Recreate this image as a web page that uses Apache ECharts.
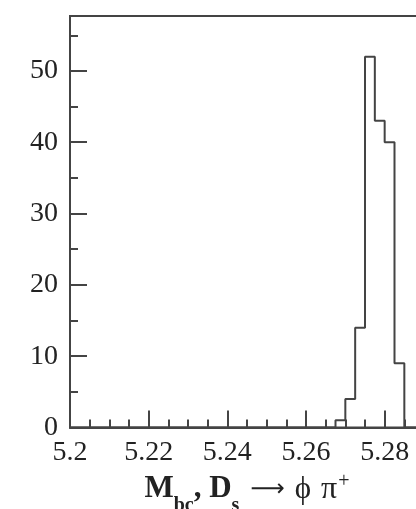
<!DOCTYPE html>
<html>
<head>
<meta charset="utf-8">
<script src="https://cdn.jsdelivr.net/npm/echarts@6/dist/echarts.min.js"></script>
<style>
  html, body { margin: 0; padding: 0; background: #ffffff; }
  #chart { width: 416px; height: 509px; }
</style>
</head>
<body>
<div id="chart"></div>
<script>
// Beam-constrained mass histogram, 0.0025 GeV bins starting at 5.2
const binLow = 5.2;
const binWidth = 0.0025;
const counts = [
  0, 0, 0, 0, 0, 0, 0, 0, 0, 0,
  0, 0, 0, 0, 0, 0, 0, 0, 0, 0,
  0, 0, 0, 0, 0, 0, 0, 1, 4, 14,
  52, 43, 40, 9, 0, 0
];

const xMin = 5.2;
const xMax = 5.29;
const yMin = 0;
const yMax = 57.7;

const xMajorTicks = [5.2, 5.22, 5.24, 5.26, 5.28];
const xMinorTicks = [5.205, 5.21, 5.215, 5.225, 5.23, 5.235, 5.245, 5.25, 5.255, 5.265, 5.27, 5.275, 5.285];
const yMajorTicks = [0, 10, 20, 30, 40, 50];
const yMinorTicks = [5, 15, 25, 35, 45, 55];

const ink = '#444444';
const serif = '"Liberation Serif", "DejaVu Serif", serif';

// step outline: each point is a bin's lower edge, plus the closing edge
const steps = counts.map((c, i) => [binLow + i * binWidth, c]);
steps.push([binLow + counts.length * binWidth, 0]);

const axisBase = {
  type: 'value',
  splitLine: { show: false },
  axisLine: { show: true, onZero: false, lineStyle: { color: ink, width: 2 } }
};

const chart = echarts.init(document.getElementById('chart'));
chart.setOption({
  animation: false,
  grid: {
    left: 70, top: 16, width: 354, height: 411.5,
    outerBoundsMode: 'none',
    containLabel: false,
    show: true, borderColor: ink, borderWidth: 2,
    backgroundColor: 'transparent'
  },
  xAxis: [
    Object.assign({}, axisBase, {
      min: xMin, max: xMax, position: 'bottom',
      axisTick: { show: true, inside: true, length: 17, customValues: xMajorTicks,
                  lineStyle: { color: ink, width: 2 } },
      axisLabel: {
        customValues: xMajorTicks, margin: 11,
        fontFamily: serif, fontSize: 28, color: '#222',
        formatter: v => String(+v.toFixed(2))
      },
      name: '{m|M}{s|bc}{m|, D}{s|s}{a|\u27f6}{r|\u03d5}{g|\u03c0}{p|+}',
      nameLocation: 'middle',
      nameGap: 22,
      nameTextStyle: {
        rich: {
          m: { fontFamily: serif, fontWeight: 'bold', fontSize: 31, color: '#222' },
          s: { fontFamily: serif, fontWeight: 'bold', fontSize: 20, color: '#222', padding: [32, 0, 0, 0] },
          a: { fontFamily: '"DejaVu Sans"', fontSize: 24, color: '#222', padding: [0, 10, 0, 11] },
          r: { fontFamily: serif, fontSize: 31, color: '#222' },
          g: { fontFamily: serif, fontSize: 32, color: '#222', padding: [0, 0, 0, 10] },
          p: { fontFamily: serif, fontSize: 20, color: '#222', padding: [0, 0, 16, 1] }
        }
      }
    }),
    Object.assign({}, axisBase, {
      min: xMin, max: xMax, position: 'bottom',
      axisLine: { show: false },
      axisTick: { show: true, inside: true, length: 8, customValues: xMinorTicks,
                  lineStyle: { color: ink, width: 2 } },
      axisLabel: { show: false }
    })
  ],
  yAxis: [
    Object.assign({}, axisBase, {
      min: yMin, max: yMax, position: 'left',
      axisTick: { show: true, inside: true, length: 17, customValues: yMajorTicks,
                  lineStyle: { color: ink, width: 2 } },
      axisLabel: {
        customValues: yMajorTicks, margin: 12,
        fontFamily: serif, fontSize: 28, color: '#222'
      }
    }),
    Object.assign({}, axisBase, {
      min: yMin, max: yMax, position: 'left', offset: 0,
      axisLine: { show: false },
      axisTick: { show: true, inside: true, length: 8, customValues: yMinorTicks,
                  lineStyle: { color: ink, width: 2 } },
      axisLabel: { show: false }
    })
  ],
  series: [{
    type: 'line',
    step: 'end',
    xAxisIndex: 0,
    yAxisIndex: 0,
    data: steps,
    showSymbol: false,
    symbol: 'none',
    clip: false,
    lineStyle: { color: ink, width: 2 }
  }]
});
</script>
</body>
</html>
